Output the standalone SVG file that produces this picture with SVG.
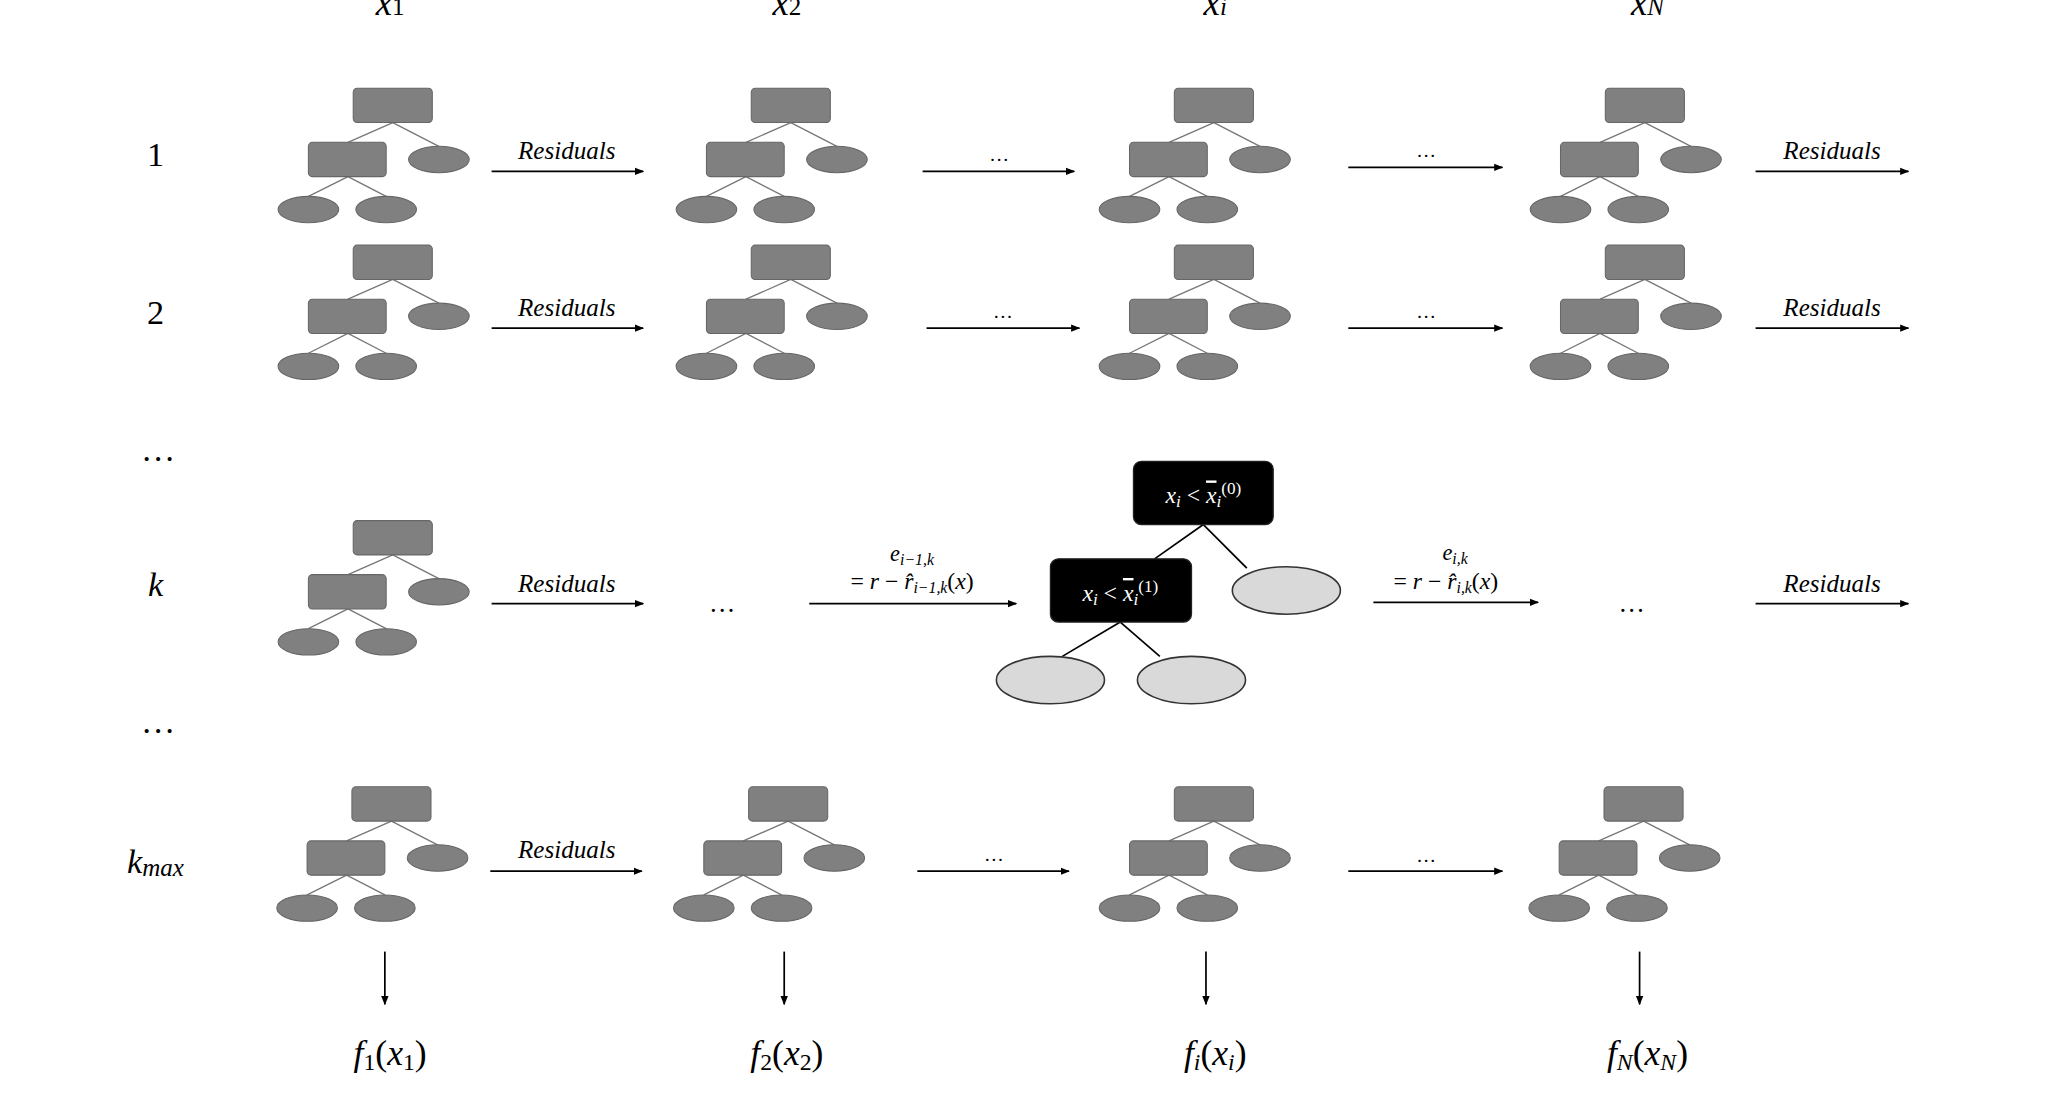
<svg xmlns="http://www.w3.org/2000/svg" xmlns:xlink="http://www.w3.org/1999/xlink" width="2067" height="1108" viewBox="0 0 2067 1108">
<style>
.t{font-family:"Liberation Serif","DejaVu Serif",serif;fill:#000}
.i{font-style:italic}
.r{font-size:19px;font-style:italic;text-anchor:middle}
.lab{font-size:26px;text-anchor:middle}
.ln{stroke:#000;stroke-width:1.3;fill:none}
.gn{fill:#808080;stroke:#666;stroke-width:0.8}
.tl{stroke:#777;stroke-width:1}
.bk{fill:#000;stroke:#222;stroke-width:1}
.lg{fill:#d9d9d9;stroke:#333;stroke-width:1.2}
.wt{fill:#fff;font-size:18px;font-family:"Liberation Serif","DejaVu Serif",serif}
</style>
<defs>
<marker id="ah" viewBox="0 0 10 10" refX="9" refY="5" markerWidth="7" markerHeight="7" markerUnits="userSpaceOnUse" orient="auto"><path d="M0,1 L10,5 L0,9 z" fill="#000"/></marker>
<g id="tree">
<line class="tl" x1="30" y1="26" x2="-4" y2="41"/><line class="tl" x1="30" y1="26" x2="65" y2="44"/>
<line class="tl" x1="-4" y1="67" x2="-34" y2="82"/><line class="tl" x1="-4" y1="67" x2="25" y2="82"/>
<rect class="gn" x="0" y="0" width="60" height="26" rx="3"/>
<rect class="gn" x="-34" y="41" width="59" height="26" rx="3"/>
<ellipse class="gn" cx="65" cy="54" rx="23" ry="10"/>
<ellipse class="gn" cx="-34" cy="92" rx="23" ry="10"/>
<ellipse class="gn" cx="25" cy="92" rx="23" ry="10"/>
</g>
</defs>
<rect width="2067" height="1108" fill="#fff"/>
<g transform="scale(1.318)">
<g id="headers" class="t i" font-size="28" text-anchor="middle">
<text x="296" y="11">x<tspan font-size="19" font-style="normal">1</tspan></text>
<text x="597" y="11">x<tspan font-size="19" font-style="normal">2</tspan></text>
<text x="922" y="11">x<tspan font-size="19">i</tspan></text>
<text x="1250" y="11">x<tspan font-size="19">N</tspan></text>
</g>
<g id="rowlabels" class="t">
<text class="lab" x="118" y="126">1</text>
<text class="lab" x="118" y="246">2</text>
<text class="lab" x="120" y="350">…</text>
<text class="lab i" x="118" y="452">k</text>
<text class="lab" x="120" y="556">…</text>
<text class="lab i" x="118" y="662">k<tspan font-size="19" dy="3">max</tspan></text>
</g>
<g id="trees">
<use id="t11" xlink:href="#tree" x="268" y="67"/><use id="t12" xlink:href="#tree" x="570" y="67"/><use id="t13" xlink:href="#tree" x="891" y="67"/><use id="t14" xlink:href="#tree" x="1218" y="67"/>
<use id="t21" xlink:href="#tree" x="268" y="186"/><use id="t22" xlink:href="#tree" x="570" y="186"/><use id="t23" xlink:href="#tree" x="891" y="186"/><use id="t24" xlink:href="#tree" x="1218" y="186"/>
<use id="tk1" xlink:href="#tree" x="268" y="395"/>
<use id="tm1" xlink:href="#tree" x="267" y="597"/><use id="tm2" xlink:href="#tree" x="568" y="597"/><use id="tm3" xlink:href="#tree" x="891" y="597"/><use id="tm4" xlink:href="#tree" x="1217" y="597"/>
</g>
<g id="bigtree">
<line class="ln" x1="913" y1="398" x2="876" y2="424"/><line class="ln" x1="913" y1="398" x2="946" y2="431"/>
<line class="ln" x1="850" y1="472" x2="806" y2="498"/><line class="ln" x1="850" y1="472" x2="880" y2="498"/>
<g id="n0"><rect class="bk" x="860" y="350" width="106" height="48" rx="6"/><text class="wt" x="913" y="382" text-anchor="middle"><tspan font-style="italic">x<tspan font-size="13" dy="3">i</tspan></tspan><tspan dy="-3"> &lt; </tspan><tspan font-style="italic" text-decoration="overline">x</tspan><tspan font-style="italic" font-size="13" dy="3">i</tspan><tspan font-size="13" dy="-10">(0)</tspan></text></g>
<g id="n1"><rect class="bk" x="797" y="424" width="107" height="48" rx="6"/><text class="wt" x="850" y="456" text-anchor="middle"><tspan font-style="italic">x<tspan font-size="13" dy="3">i</tspan></tspan><tspan dy="-3"> &lt; </tspan><tspan font-style="italic" text-decoration="overline">x</tspan><tspan font-style="italic" font-size="13" dy="3">i</tspan><tspan font-size="13" dy="-10">(1)</tspan></text></g>
<ellipse id="n2" class="lg" cx="976" cy="448" rx="41" ry="18"/>
<ellipse id="n3" class="lg" cx="797" cy="516" rx="41" ry="18"/>
<ellipse id="n4" class="lg" cx="904" cy="516" rx="41" ry="18"/>
</g>
<g id="connectors" class="ln" marker-end="url(#ah)">
<line x1="373" y1="130" x2="488" y2="130"/><line x1="700" y1="130" x2="815" y2="130"/><line x1="1023" y1="127" x2="1140" y2="127"/><line x1="1332" y1="130" x2="1448" y2="130"/>
<line x1="373" y1="249" x2="488" y2="249"/><line x1="703" y1="249" x2="819" y2="249"/><line x1="1023" y1="249" x2="1140" y2="249"/><line x1="1332" y1="249" x2="1448" y2="249"/>
<line x1="373" y1="458" x2="488" y2="458"/><line x1="614" y1="458" x2="771" y2="458"/><line x1="1042" y1="457" x2="1167" y2="457"/><line x1="1332" y1="458" x2="1448" y2="458"/>
<line x1="372" y1="661" x2="487" y2="661"/><line x1="696" y1="661" x2="811" y2="661"/><line x1="1023" y1="661" x2="1140" y2="661"/>
<line x1="292" y1="722" x2="292" y2="762"/><line x1="595" y1="722" x2="595" y2="762"/><line x1="915" y1="722" x2="915" y2="762"/><line x1="1244" y1="722" x2="1244" y2="762"/>
</g>
<g id="edgelabels" class="t">
<text class="r" x="430" y="121">Residuals</text><text x="758" y="122" font-size="15" text-anchor="middle">…</text><text x="1082" y="119" font-size="15" text-anchor="middle">…</text><text class="r" x="1390" y="121">Residuals</text>
<text class="r" x="430" y="240">Residuals</text><text x="761" y="241" font-size="15" text-anchor="middle">…</text><text x="1082" y="241" font-size="15" text-anchor="middle">…</text><text class="r" x="1390" y="240">Residuals</text>
<text class="r" x="430" y="449">Residuals</text><text x="548" y="464" font-size="20" text-anchor="middle">…</text>
<text x="692" y="426" font-size="17" text-anchor="middle" font-style="italic">e<tspan font-size="12" dy="3">i−1,k</tspan></text>
<text x="692" y="447" font-size="18" text-anchor="middle">= <tspan font-style="italic">r</tspan> − <tspan font-style="italic">r̂</tspan><tspan font-size="12" dy="3" font-style="italic">i−1,k</tspan><tspan dy="-3">(<tspan font-style="italic">x</tspan>)</tspan></text>
<text x="1104" y="425" font-size="17" text-anchor="middle" font-style="italic">e<tspan font-size="12" dy="3">i,k</tspan></text>
<text x="1097" y="447" font-size="18" text-anchor="middle">= <tspan font-style="italic">r</tspan> − <tspan font-style="italic">r̂</tspan><tspan font-size="12" dy="3" font-style="italic">i,k</tspan><tspan dy="-3">(<tspan font-style="italic">x</tspan>)</tspan></text>
<text x="1238" y="464" font-size="20" text-anchor="middle">…</text><text class="r" x="1390" y="449">Residuals</text>
<text class="r" x="430" y="651">Residuals</text><text x="754" y="653" font-size="15" text-anchor="middle">…</text><text x="1082" y="654" font-size="15" text-anchor="middle">…</text>
</g>
<g id="outputs" class="t" font-size="27" text-anchor="middle">
<text x="296" y="808"><tspan font-style="italic">f</tspan><tspan font-size="18" dy="4">1</tspan><tspan dy="-4">(<tspan font-style="italic">x</tspan></tspan><tspan font-size="18" dy="4">1</tspan><tspan dy="-4">)</tspan></text>
<text x="597" y="808"><tspan font-style="italic">f</tspan><tspan font-size="18" dy="4">2</tspan><tspan dy="-4">(<tspan font-style="italic">x</tspan></tspan><tspan font-size="18" dy="4">2</tspan><tspan dy="-4">)</tspan></text>
<text x="922" y="808"><tspan font-style="italic">f</tspan><tspan font-size="18" dy="4" font-style="italic">i</tspan><tspan dy="-4">(<tspan font-style="italic">x</tspan></tspan><tspan font-size="18" dy="4" font-style="italic">i</tspan><tspan dy="-4">)</tspan></text>
<text x="1250" y="808"><tspan font-style="italic">f</tspan><tspan font-size="18" dy="4" font-style="italic">N</tspan><tspan dy="-4">(<tspan font-style="italic">x</tspan></tspan><tspan font-size="18" dy="4" font-style="italic">N</tspan><tspan dy="-4">)</tspan></text>
</g>
</g>
</svg>
